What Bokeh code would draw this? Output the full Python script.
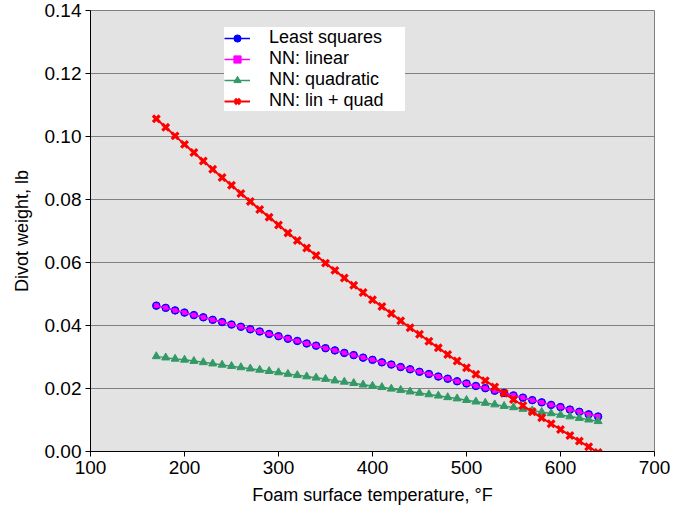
from bokeh.plotting import figure
from bokeh.models import ColumnDataSource, Legend, LegendItem, FixedTicker, PrintfTickFormatter, Range1d
from bokeh.embed import file_html
from bokeh.resources import INLINE

# Foam surface temperature, °F
temperature = [170, 180, 190, 200, 210, 220, 230, 240, 250, 260, 270, 280, 290, 300,
               310, 320, 330, 340, 350, 360, 370, 380, 390, 400, 410, 420, 430, 440,
               450, 460, 470, 480, 490, 500, 510, 520, 530, 540, 550, 560, 570, 580,
               590, 600, 610, 620, 630, 640]

# Divot weight, lb
least_squares = [0.0463, 0.0456, 0.0448, 0.0441, 0.0433, 0.0426, 0.0418, 0.0411, 0.0403,
                 0.0396, 0.0388, 0.0381, 0.0373, 0.0366, 0.0358, 0.0351, 0.0343, 0.0336,
                 0.0328, 0.0321, 0.0313, 0.0306, 0.0298, 0.0291, 0.0283, 0.0276, 0.0268,
                 0.0261, 0.0253, 0.0246, 0.0238, 0.0231, 0.0223, 0.0216, 0.0208, 0.0201,
                 0.0193, 0.0186, 0.0178, 0.0171, 0.0163, 0.0156, 0.0148, 0.0141, 0.0133,
                 0.0126, 0.0118, 0.0111]
nn_linear = [0.0463, 0.0456, 0.0448, 0.0441, 0.0433, 0.0426, 0.0418, 0.0411, 0.0403,
             0.0396, 0.0388, 0.0381, 0.0373, 0.0366, 0.0358, 0.0351, 0.0343, 0.0336,
             0.0328, 0.0321, 0.0313, 0.0306, 0.0298, 0.0291, 0.0283, 0.0276, 0.0268,
             0.0261, 0.0253, 0.0246, 0.0238, 0.0231, 0.0223, 0.0216, 0.0208, 0.0201,
             0.0193, 0.0186, 0.0178, 0.0171, 0.0163, 0.0156, 0.0148, 0.0141, 0.0133,
             0.0126, 0.0118, 0.0111]
nn_quadratic = [0.0302, 0.0298, 0.0294, 0.0291, 0.0287, 0.0283, 0.0279, 0.0275, 0.0271,
                0.0267, 0.0263, 0.0259, 0.0255, 0.0251, 0.0246, 0.0242, 0.0238, 0.0234,
                0.0230, 0.0225, 0.0221, 0.0217, 0.0212, 0.0208, 0.0204, 0.0199, 0.0195,
                0.0190, 0.0186, 0.0181, 0.0177, 0.0172, 0.0168, 0.0163, 0.0158, 0.0154,
                0.0149, 0.0144, 0.0140, 0.0135, 0.0130, 0.0125, 0.0121, 0.0116, 0.0111,
                0.0106, 0.0101, 0.0096]
nn_lin_quad = [0.1056, 0.1029, 0.1002, 0.0975, 0.0949, 0.0922, 0.0896, 0.0870, 0.0845,
               0.0819, 0.0794, 0.0768, 0.0744, 0.0719, 0.0694, 0.0670, 0.0646, 0.0622,
               0.0598, 0.0575, 0.0551, 0.0528, 0.0505, 0.0482, 0.0460, 0.0438, 0.0415,
               0.0393, 0.0372, 0.0350, 0.0329, 0.0308, 0.0287, 0.0266, 0.0245, 0.0225,
               0.0205, 0.0185, 0.0165, 0.0146, 0.0126, 0.0107, 0.0088, 0.0070, 0.0051,
               0.0033, 0.0015, -0.0003]

series_labels = ["Least squares", "NN: linear", "NN: quadratic", "NN: lin + quad"]
x_ticks = [100, 200, 300, 400, 500, 600, 700]
y_ticks = [0.00, 0.02, 0.04, 0.06, 0.08, 0.10, 0.12, 0.14]

FONT = "Liberation Sans"

p = figure(frame_width=564, frame_height=441, output_backend="svg", toolbar_location=None,
           x_range=Range1d(100, 700), y_range=Range1d(0, 0.14),
           min_border_left=90, min_border_right=22, min_border_top=10, min_border_bottom=0)

p.background_fill_color = "#E3E3E3"
p.border_fill_color = "white"
p.outline_line_color = "#808080"
p.outline_line_width = 1

p.xgrid.grid_line_color = None
p.ygrid.grid_line_color = "#808080"
p.ygrid.grid_line_width = 1

for ax in (p.xaxis[0], p.yaxis[0]):
    ax.axis_line_color = "black"
    ax.major_tick_line_color = "black"
    ax.major_tick_in = 0
    ax.major_tick_out = 5
    ax.minor_tick_line_color = None
    ax.major_label_text_font = FONT
    ax.major_label_text_font_size = "19px"
    ax.major_label_text_color = "black"
    ax.axis_label_text_font = FONT
    ax.axis_label_text_font_size = "18px"
    ax.axis_label_text_font_style = "normal"
    ax.axis_label_text_color = "black"
    ax.major_label_standoff = 4

p.xaxis.ticker = FixedTicker(ticks=x_ticks)
p.yaxis.ticker = FixedTicker(ticks=y_ticks)
p.yaxis.formatter = PrintfTickFormatter(format="%.2f")
p.xaxis.axis_label = "Foam surface temperature, °F"
p.yaxis.axis_label = "Divot weight, lb"
p.xaxis.axis_label_standoff = 8
p.yaxis.axis_label_standoff = 10

src = ColumnDataSource(dict(t=temperature, ls=least_squares, lin=nn_linear,
                            quad=nn_quadratic, lq=nn_lin_quad))

l1 = p.line("t", "ls", source=src, line_color="#0000FF", line_width=1.5)
m1 = p.scatter("t", "ls", source=src, marker="circle", size=7.5,
               fill_color="#0000FF", line_color="#0000FF")
l2 = p.line("t", "lin", source=src, line_color="#FF00FF", line_width=1.5)
m2 = p.scatter("t", "lin", source=src, marker="square", size=4,
               fill_color="#FF00FF", line_color="#FF00FF")
l3 = p.line("t", "quad", source=src, line_color="#339966", line_width=1.5)
m3 = p.scatter("t", "quad", source=src, marker="triangle", size=8,
               fill_color="#339966", line_color="#339966")
l4 = p.line("t", "lq", source=src, line_color="#FF0000", line_width=2)
m4 = p.scatter("t", "lq", source=src, marker="x", size=9.5,
               line_color="#FF0000", line_width=3.2)

legend = Legend(items=[
    LegendItem(label=series_labels[0], renderers=[l1, m1]),
    LegendItem(label=series_labels[1], renderers=[l2, m2]),
    LegendItem(label=series_labels[2], renderers=[l3, m3]),
    LegendItem(label=series_labels[3], renderers=[l4, m4]),
], location=(134, 340))
legend.background_fill_color = "white"
legend.background_fill_alpha = 1
legend.border_line_color = None
legend.label_text_font = FONT
legend.label_text_font_size = "18px"
legend.label_text_color = "black"
legend.glyph_width = 26
legend.glyph_height = 18
legend.label_height = 18
legend.spacing = 0
legend.padding = 6
legend.margin = 0
legend.label_standoff = 19
legend.label_width = 136
p.add_layout(legend, "center")

open("out.html", "w").write(file_html(p, INLINE))
